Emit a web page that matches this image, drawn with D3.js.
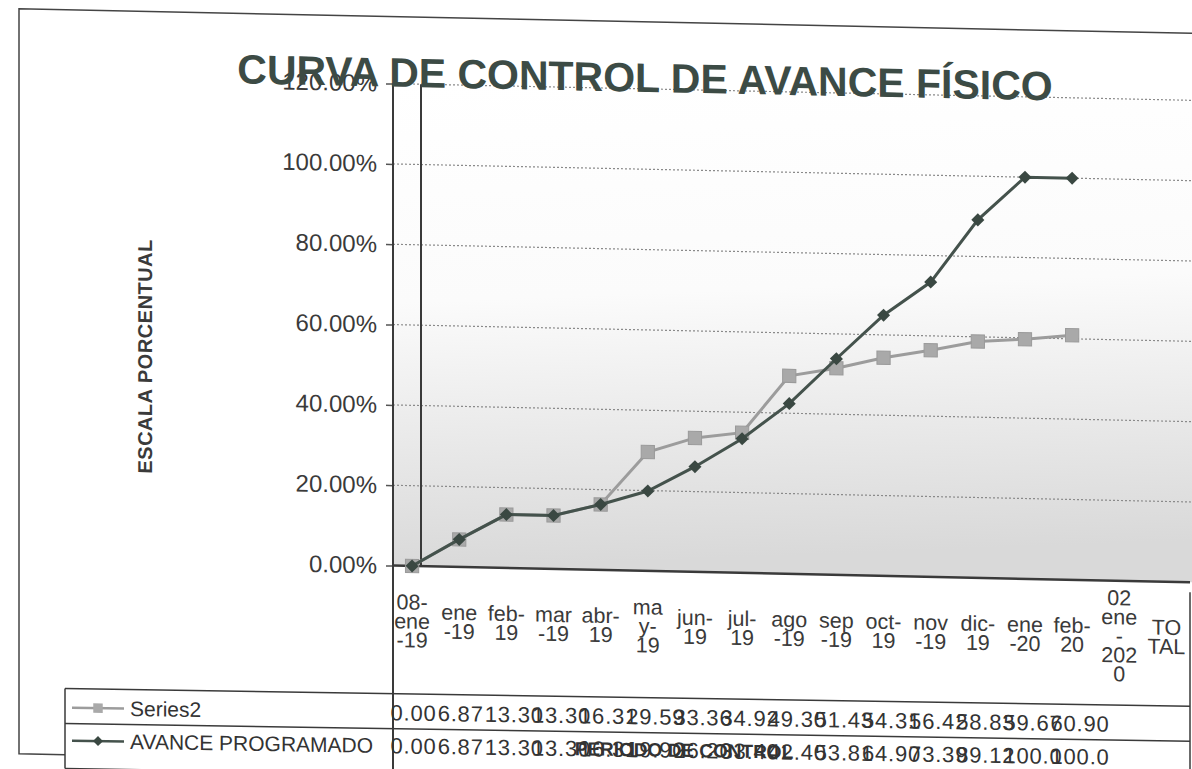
<!DOCTYPE html>
<html>
<head>
<meta charset="utf-8">
<script src="https://cdn.jsdelivr.net/npm/d3@7"></script>
<style>
  body { margin: 0; background: #fff; }
  text { font-family: "Liberation Sans", Arial, sans-serif; }
</style>
</head>
<body>
<div id="chart"></div>
<script>
// curva de control de avance fisico - scanned excel chart with data table

var categories = ["08-ene-19", "ene-19", "feb-19", "mar-19", "abr-19", "may-19", "jun-19", "jul-19",
  "ago-19", "sep-19", "oct-19", "nov-19", "dic-19", "ene-20", "feb-20", "02 ene-2020", "TOTAL"];

// the category labels as excel wrapped them
var categoryLines = [["08-", "ene", "-19"], ["ene", "-19"], ["feb-", "19"], ["mar", "-19"], ["abr-", "19"],
  ["ma", "y-", "19"], ["jun-", "19"], ["jul-", "19"], ["ago", "-19"], ["sep", "-19"], ["oct-", "19"],
  ["nov", "-19"], ["dic-", "19"], ["ene", "-20"], ["feb-", "20"], ["02", "ene", "-", "202", "0"], ["TO", "TAL"]];

var series2 = [0.00, 6.87, 13.30, 13.30, 16.31, 29.59, 33.36, 34.92, 49.30, 51.43, 54.31, 56.42, 58.83, 59.67, 60.90];
var avanceProgramado = [0.00, 6.87, 13.30, 13.30, 16.31, 19.90, 26.20, 33.40, 42.40, 53.81, 64.90, 73.39, 89.12, 100.00, 100.00];

var yTicks = [0, 20, 40, 60, 80, 100, 120];

var seriesNames = ["Series2", "AVANCE PROGRAMADO"];


var width = 1192, height = 769;

var svg = d3.select('#chart').append('svg')
  .attr('width', width)
  .attr('height', height);

var defs = svg.append('defs');
var grad = defs.append('linearGradient').attr('id', 'plotbg')
  .attr('x1', 0).attr('y1', 0).attr('x2', 0.1).attr('y2', 1);
grad.append('stop').attr('offset', 0).attr('stop-color', '#ffffff');
grad.append('stop').attr('offset', 0.45).attr('stop-color', '#fbfbfb');
grad.append('stop').attr('offset', 1).attr('stop-color', '#d9d9d9');

// the scan is sheared a little: horizontals drop to the right, verticals stay
var pivot = 412;
function shear(deg) {
  return 'translate(0,' + (-pivot * Math.tan(deg * Math.PI / 180)) + ') skewY(' + deg + ')';
}
var g = svg.append('g').attr('transform', shear(1.2));
var tg = svg.append('g').attr('transform', shear(0.9));   // data table tilts a bit less

var xScale = d3.scaleBand().domain(categories).range([388.5, 1190]),
  yScale = d3.scaleLinear().domain([0, 120]).range([566, 84]);

function cx(i) { return xScale(categories[i]) + xScale.bandwidth() / 2; }

var axisX = 393, plotRight = 1215;

// outer frame
g.append('path')
  .attr('d', 'M' + plotRight + ',17 L19,17 L19,762 L65,762')
  .attr('fill', 'none').attr('stroke', '#444').attr('stroke-width', 1.5);

// plot background
g.append('rect')
  .attr('x', axisX).attr('y', yScale(120))
  .attr('width', plotRight - axisX).attr('height', yScale(0) - yScale(120))
  .attr('fill', 'url(#plotbg)');

// grid lines
g.selectAll('.grid').data(yTicks.slice(1)).enter().append('line')
  .attr('class', 'grid')
  .attr('x1', axisX).attr('x2', plotRight)
  .attr('y1', function(d) { return yScale(d); })
  .attr('y2', function(d) { return yScale(d); })
  .attr('stroke', '#8a8a8a').attr('stroke-width', 1.2)
  .attr('stroke-dasharray', '2,2');

// y axis
var yAxis = g.append('g')
  .attr('transform', 'translate(' + axisX + ',0)')
  .call(d3.axisLeft(yScale).tickValues(yTicks).tickSize(7).tickPadding(9)
    .tickFormat(function(d) { return d3.format('.2f')(d) + '%'; }));
yAxis.select('.domain').remove();
yAxis.selectAll('.tick line').attr('stroke', '#555').attr('stroke-width', 1.5);
yAxis.selectAll('.tick text')
  .style('font-family', '"Liberation Sans", Arial, sans-serif')
  .style('font-size', '24px').attr('fill', '#3a3a3a');

// axis lines: the y axis runs down through the data table
g.append('line').attr('x1', axisX).attr('x2', axisX).attr('y1', yScale(120)).attr('y2', 775)
  .attr('stroke', '#3a3a3a').attr('stroke-width', 2);
g.append('line').attr('x1', 421).attr('x2', 421).attr('y1', yScale(120)).attr('y2', yScale(0))
  .attr('stroke', '#3a3a3a').attr('stroke-width', 2);
g.append('line').attr('x1', axisX).attr('x2', 1190).attr('y1', yScale(0)).attr('y2', yScale(0))
  .attr('stroke', '#3a3a3a').attr('stroke-width', 2.5);

// series lines
var line = d3.line()
  .x(function(d, i) { return cx(i); })
  .y(function(d) { return yScale(d); });

g.append('path').datum(series2)
  .attr('d', line)
  .attr('fill', 'none').attr('stroke', '#9c9c9c').attr('stroke-width', 3);

g.selectAll('.sq').data(series2).enter().append('path')
  .attr('class', 'sq')
  .attr('d', d3.symbol(d3.symbolSquare, 175))
  .attr('transform', function(d, i) { return 'translate(' + cx(i) + ',' + yScale(d) + ')'; })
  .attr('fill', '#a9a9a9').attr('stroke', '#9a9a9a').attr('stroke-width', 1);

g.append('path').datum(avanceProgramado)
  .attr('d', line)
  .attr('fill', 'none').attr('stroke', '#44524c').attr('stroke-width', 3);

g.selectAll('.dm').data(avanceProgramado).enter().append('path')
  .attr('class', 'dm')
  .attr('d', d3.symbol(d3.symbolSquare, 85))
  .attr('transform', function(d, i) { return 'translate(' + cx(i) + ',' + yScale(d) + ') rotate(45)'; })
  .attr('fill', '#3a4842');

// category labels
var lh = 19;
var catG = g.selectAll('.cat').data(categoryLines).enter().append('text')
  .attr('class', 'cat')
  .attr('text-anchor', 'middle')
  .style('font-size', '21.5px').attr('fill', '#3a3a3a');
catG.each(function(lines, i) {
  var t = d3.select(this);
  var top = 621 - (lines.length - 1) * lh / 2;
  lines.forEach(function(s, k) {
    t.append('tspan').attr('x', cx(i)).attr('y', top + k * lh).attr('dy', '0.35em').text(s);
  });
});

// data table
var rowTop = 694, rowMid = 729, rowBot = 774;
[rowTop, rowMid, rowBot].forEach(function(yy) {
  tg.append('line').attr('x1', 65).attr('x2', 1190).attr('y1', yy).attr('y2', yy)
    .attr('stroke', '#3a3a3a').attr('stroke-width', 1.5);
});
tg.append('line').attr('x1', 65).attr('x2', 65).attr('y1', rowTop).attr('y2', rowBot)
  .attr('stroke', '#3a3a3a').attr('stroke-width', 1.5);
tg.append('line').attr('x1', 1190).attr('x2', 1190).attr('y1', 580).attr('y2', rowBot)
  .attr('stroke', '#3a3a3a').attr('stroke-width', 1.5);

var rows = [
  { name: seriesNames[0], values: series2, y: 713, color: '#9c9c9c', mark: 'sq' },
  { name: seriesNames[1], values: avanceProgramado, y: 746, color: '#44524c', mark: 'dm' }
];

function fmt(v) { return v >= 100 ? v.toFixed(1) : v.toFixed(2); }

rows.forEach(function(r) {
  tg.append('line').attr('x1', 72).attr('x2', 124).attr('y1', r.y).attr('y2', r.y)
    .attr('stroke', r.color).attr('stroke-width', 2.5);
  tg.append('path')
    .attr('d', d3.symbol(d3.symbolSquare, r.mark === 'sq' ? 90 : 50))
    .attr('transform', 'translate(98,' + r.y + ')' + (r.mark === 'dm' ? ' rotate(45)' : ''))
    .attr('fill', r.mark === 'sq' ? '#a9a9a9' : '#3a4842');
  tg.append('text').attr('x', 130).attr('y', r.y).attr('dy', '0.35em')
    .style('font-size', '21px').attr('fill', '#333').text(r.name);
  tg.selectAll(null).data(r.values).enter().append('text')
    .attr('x', function(d, i) { return xScale(categories[i]) + 2; })
    .attr('y', r.y).attr('dy', '0.35em')
    .style('font-size', '22px').style('letter-spacing', '0.8px').attr('fill', '#333')
    .text(function(d) { return fmt(d); });
});

// x axis title ends up on top of the table
tg.append('text').attr('x', 684).attr('y', rows[1].y).attr('dy', '0.35em')
  .attr('text-anchor', 'middle')
  .style('font-size', '19px').style('font-weight', 'bold').attr('fill', '#333')
  .text('PERIODO DE CONTROL');

// y axis title
g.append('text')
  .attr('transform', 'translate(152,362) rotate(-90)')
  .attr('text-anchor', 'middle')
  .style('font-size', '20px').style('font-weight', 'bold').style('letter-spacing', '0.5px')
  .attr('fill', '#3a3a3a')
  .text('ESCALA PORCENTUAL');

// title
g.append('text').attr('x', 645).attr('y', 87)
  .attr('text-anchor', 'middle')
  .style('font-size', '41px').style('font-weight', 'bold').attr('fill', '#3c4b45')
  .text('CURVA DE CONTROL DE AVANCE FÍSICO');
</script>
</body>
</html>
